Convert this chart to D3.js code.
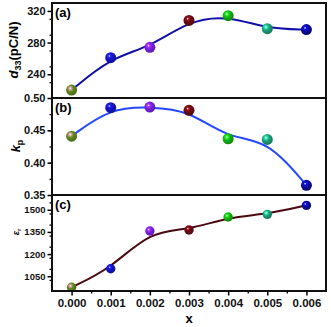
<!DOCTYPE html>
<html>
<head>
<meta charset="utf-8">
<script src="https://cdn.jsdelivr.net/npm/d3@7"></script>
<style>
  body { margin: 0; background: #fff; }
  text { font-family: "Liberation Sans", Arial, sans-serif; font-weight: bold; }
</style>
</head>
<body>
<div id="chart"></div>
<script>
const xValues = [0, 0.001, 0.002, 0.003, 0.004, 0.005, 0.006];
const d33 = [220, 261, 274, 308, 314, 297.5, 296.5];
const kp = [0.441, 0.485, 0.486, 0.481, 0.437, 0.436, 0.365];
const epsr = [975, 1101, 1356, 1363, 1451, 1469, 1530];
const markerColors = ["#5f8a1c", "#1414c8", "#7a22e6", "#6a0c14", "#14b414", "#1fa07a", "#0c0c9c"];
const xTicks = [0, 0.001, 0.002, 0.003, 0.004, 0.005, 0.006];

const W = 331, H = 327;
const left = 52, right = 326;
const svg = d3.select("#chart").append("svg").attr("width", W).attr("height", H);

// gradients for the glossy balls
const defs = svg.append("defs");
markerColors.forEach((c, i) => {
  const g = defs.append("radialGradient").attr("id", "ball" + i)
    .attr("cx", "38%").attr("cy", "35%").attr("r", "65%");
  g.append("stop").attr("offset", "0%").attr("stop-color", "#fff");
  g.append("stop").attr("offset", "18%").attr("stop-color", i === 0 ? "#e0a0b0" : d3.color(c).brighter(1.2));
  g.append("stop").attr("offset", "45%").attr("stop-color", c);
  g.append("stop").attr("offset", "100%").attr("stop-color", d3.color(c).darker(0.8));
});

const x = d3.scaleLinear().domain([-0.0005, 0.0065]).range([left, right]);

const panels = [
  { id: "(a)", data: d33, top: 3, bottom: 98, domain: [210, 330], ticks: [240, 280, 320], minor: 20,
    fmt: d3.format("d"), line: "#1010a8", r: 5.5 },
  { id: "(b)", data: kp, top: 98, bottom: 195, domain: [0.35, 0.5], ticks: [0.35, 0.4, 0.45, 0.5], minor: 0.025,
    fmt: d3.format(".2f"), line: "#2448ff", r: 5.5 },
  { id: "(c)", data: epsr, top: 195, bottom: 291, domain: [950, 1600], ticks: [1050, 1200, 1350, 1500], minor: 75,
    fmt: d3.format("d"), line: "#4a0810", r: 4.7 }
];

panels.forEach((p, pi) => {
  const y = d3.scaleLinear().domain(p.domain).range([p.bottom, p.top]);
  const g = svg.append("g");

  // minor ticks
  const minorVals = d3.range(p.domain[0], p.domain[1] + 1e-9, p.minor)
    .filter(v => v > p.domain[0] + 1e-9 && v < p.domain[1] - 1e-9);
  g.append("g").attr("transform", `translate(${left},0)`)
    .call(d3.axisLeft(y).tickValues(minorVals).tickSize(2.5).tickFormat(""))
    .call(a => a.select(".domain").remove())
    .call(a => a.selectAll("line").attr("stroke-width", 1.3));

  const ax = g.append("g").attr("transform", `translate(${left},0)`)
    .call(d3.axisLeft(y).tickValues(p.ticks).tickSize(4.5).tickPadding(2).tickFormat(p.fmt));
  ax.select(".domain").remove();
  ax.selectAll("line").attr("stroke-width", 1.5);
  ax.selectAll("text").attr("font-size", pi === 2 ? 9.5 : 11).attr("font-weight", "bold")
    .attr("font-family", "Liberation Sans, Arial, sans-serif").attr("fill", "#111");

  // fitted line
  g.append("path")
    .datum(xValues.map((d, i) => [d, p.data[i]]))
    .attr("fill", "none").attr("stroke", p.line).attr("stroke-width", 2)
    .attr("d", d3.line().x(d => x(d[0])).y(d => y(d[1])).curve(d3.curveBasis));

  // balls
  g.selectAll("circle.ball")
    .data(xValues.map((d, i) => ({ x: d, v: p.data[i], i })))
    .join("circle")
    .attr("class", "ball")
    .attr("cx", d => x(d.x)).attr("cy", d => y(d.v)).attr("r", p.r)
    .attr("fill", d => `url(#ball${d.i})`);

  // frame
  g.append("rect")
    .attr("x", left).attr("y", p.top).attr("width", right - left).attr("height", p.bottom - p.top)
    .attr("fill", "none").attr("stroke", "#111").attr("stroke-width", 2);

  g.append("text").attr("x", left + 3).attr("y", p.top + 14)
    .attr("font-size", 13).text(p.id);
});

// x axis
const xMinor = d3.range(-0.0005, 0.0065, 0.001).filter(v => v > -0.0004);
svg.append("g").attr("transform", `translate(0,291)`)
  .call(d3.axisBottom(x).tickValues(xMinor).tickSize(2.5).tickFormat(""))
  .call(a => a.select(".domain").remove())
  .call(a => a.selectAll("line").attr("stroke-width", 1.3));
const xa = svg.append("g").attr("transform", `translate(0,291)`)
  .call(d3.axisBottom(x).tickValues(xTicks).tickSize(4.5).tickPadding(3).tickFormat(d3.format(".3f")));
xa.select(".domain").remove();
xa.selectAll("line").attr("stroke-width", 1.5);
xa.selectAll("text").attr("font-size", 11.5).attr("font-weight", "bold")
  .attr("font-family", "Liberation Sans, Arial, sans-serif").attr("fill", "#111");

svg.append("text").attr("x", (left + right) / 2).attr("y", 323)
  .attr("text-anchor", "middle").attr("font-size", 13).text("x");

// y labels
const yl1 = svg.append("text").attr("transform", "translate(18,50) rotate(-90)")
  .attr("text-anchor", "middle").attr("font-size", 13);
yl1.append("tspan").attr("font-style", "italic").text("d");
yl1.append("tspan").attr("font-size", 9).attr("dy", 3).text("33");
yl1.append("tspan").attr("dy", -3).text("(pC/N)");

const yl2 = svg.append("text").attr("transform", "translate(20,146) rotate(-90)")
  .attr("text-anchor", "middle").attr("font-size", 13);
yl2.append("tspan").attr("font-style", "italic").text("k");
yl2.append("tspan").attr("font-size", 9).attr("dy", 3).text("p");

const yl3 = svg.append("text").attr("transform", "translate(19,232) rotate(-90)")
  .attr("text-anchor", "middle").attr("font-size", 9);
yl3.append("tspan").attr("font-style", "italic").text("ε");
yl3.append("tspan").attr("font-size", 6).attr("dy", 2).text("r");
</script>
</body>
</html>
